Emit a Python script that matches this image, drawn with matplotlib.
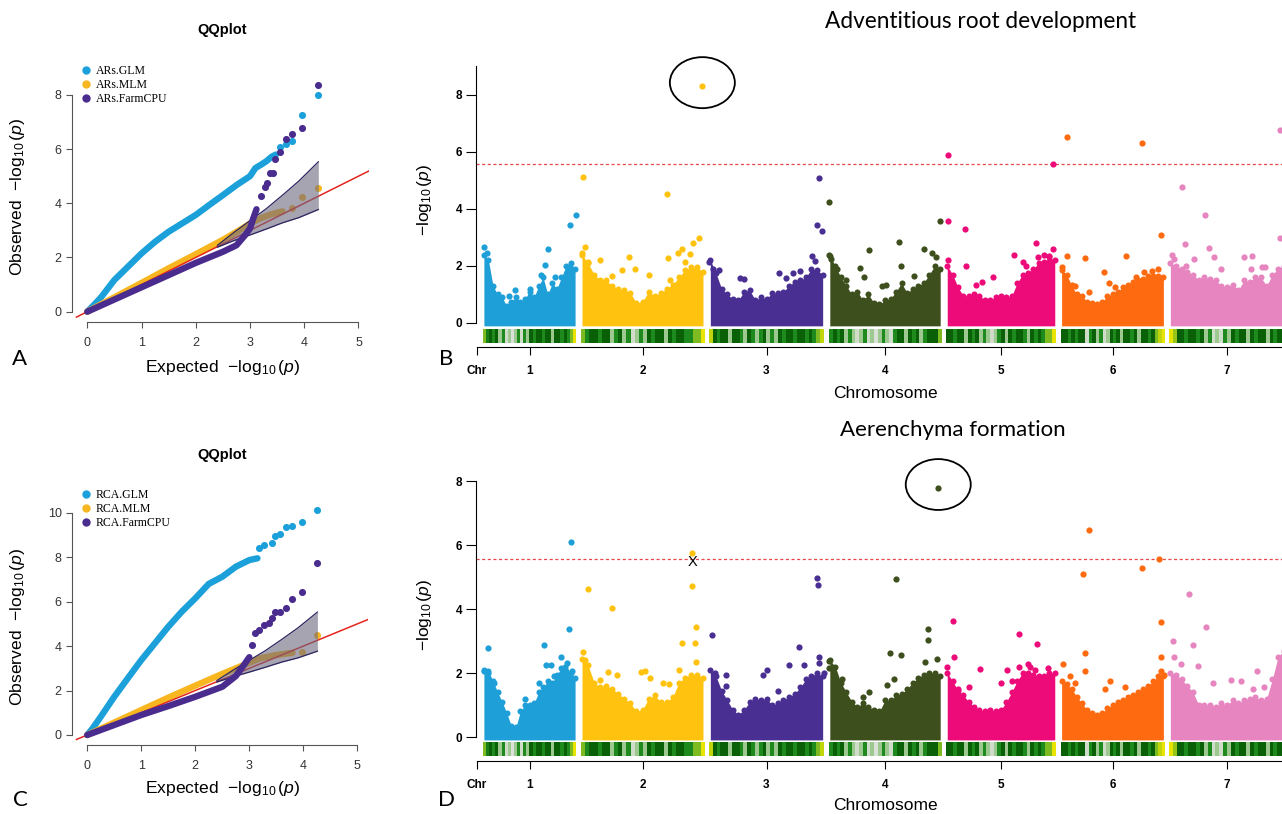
# -*- coding: utf-8 -*-
import numpy as np
import matplotlib
matplotlib.use('Agg')
import matplotlib.pyplot as plt
from matplotlib.colors import LinearSegmentedColormap
from matplotlib.lines import Line2D
from matplotlib.patches import Ellipse

plt.rcParams['font.family'] = ['Liberation Sans', 'DejaVu Sans']
plt.rcParams['mathtext.fontset'] = 'custom'
plt.rcParams['mathtext.rm'] = 'Liberation Sans'
plt.rcParams['mathtext.it'] = 'Liberation Sans:italic'

########################################## QQ data (expected, observed)
qq_ref = [-0.2, 5.2]

ar_names = ['ARs.GLM', 'ARs.MLM', 'ARs.FarmCPU']
ar_glm_x = [0, 0.1, 0.25, 0.5, 0.75, 1.0, 1.25, 1.5, 1.75, 2.0, 2.25, 2.5, 2.75, 3.0, 3.1, 3.2, 3.3, 3.4, 3.48]
ar_glm_y = [0, 0.2, 0.52, 1.17, 1.66, 2.15, 2.58, 2.95, 3.26, 3.57, 3.94, 4.3, 4.67, 5.0, 5.3, 5.42, 5.55, 5.72, 5.8]
ar_glm_tx = [3.55, 3.66, 3.78, 3.95, 4.26]
ar_glm_ty = [6.06, 6.2, 6.3, 7.27, 8.0]
ar_mlm_x = [0, 0.5, 1.0, 1.5, 2.0, 2.5, 2.8, 3.0, 3.2, 3.4, 3.6]
ar_mlm_y = [0, 0.53, 1.06, 1.6, 2.12, 2.65, 3.0, 3.25, 3.45, 3.6, 3.7]
ar_mlm_tx = [3.78, 3.95, 4.26]
ar_mlm_ty = [3.82, 4.22, 4.56]
ar_farm_x = [0, 0.5, 1.0, 1.5, 2.0, 2.5, 2.75, 2.9, 3.0, 3.06, 3.12]
ar_farm_y = [0, 0.45, 0.9, 1.35, 1.8, 2.21, 2.45, 2.8, 3.07, 3.44, 3.78]
ar_farm_tx = [3.2, 3.28, 3.31, 3.36, 3.42, 3.47, 3.55, 3.66, 3.78, 3.95, 4.26]
ar_farm_ty = [4.28, 4.61, 4.76, 5.1, 5.13, 5.62, 5.9, 6.36, 6.56, 6.79, 8.36]

rca_names = ['RCA.GLM', 'RCA.MLM', 'RCA.FarmCPU']
rca_glm_x = [0, 0.1, 0.25, 0.5, 0.75, 1.0, 1.25, 1.5, 1.75, 2.0, 2.25, 2.5, 2.75, 3.0, 3.15]
rca_glm_y = [0, 0.3, 0.82, 1.72, 2.55, 3.37, 4.12, 4.87, 5.55, 6.15, 6.8, 7.12, 7.57, 7.87, 7.95]
rca_glm_tx = [3.18, 3.27, 3.42, 3.48, 3.56, 3.67, 3.79, 3.97, 4.26]
rca_glm_ty = [8.4, 8.55, 8.62, 8.95, 9.04, 9.37, 9.4, 9.57, 10.12]
rca_mlm_x = [0, 0.5, 1.0, 1.5, 2.0, 2.5, 2.9, 3.2, 3.5, 3.8]
rca_mlm_y = [0, 0.56, 1.12, 1.68, 2.22, 2.75, 3.15, 3.45, 3.6, 3.7]
rca_mlm_tx = [3.97, 4.26]
rca_mlm_ty = [3.75, 4.5]
rca_farm_x = [0, 0.5, 1.0, 1.5, 2.0, 2.5, 2.75, 2.9, 3.0]
rca_farm_y = [0, 0.45, 0.9, 1.3, 1.72, 2.17, 2.65, 3.15, 3.5]
rca_farm_tx = [3.05, 3.1, 3.18, 3.27, 3.36, 3.42, 3.48, 3.57, 3.67, 3.79, 3.97, 4.26]
rca_farm_ty = [4.05, 4.57, 4.72, 4.95, 5.05, 5.25, 5.55, 5.55, 5.7, 6.1, 6.45, 7.75]

# confidence band of the QQ plots
band_x = [2.4, 2.7, 3.0, 3.3, 3.6, 3.9, 4.26]
band_lo = [2.38, 2.62, 2.83, 3.05, 3.28, 3.47, 3.77]
band_hi = [2.45, 2.92, 3.36, 3.8, 4.3, 4.82, 5.53]

########################################## Manhattan data
chr_labels = ['1', '2', '3', '4', '5', '6', '7']
chr_len = [95, 126, 117, 115, 112, 106, 118]
chr_gap = 2.5
threshold = 5.56

# top of the dense cloud of points, 21 evenly spaced positions per chromosome
ar_body = [
    [2.4, 2.2, 1.3, 1.0, 0.9, 0.6, 0.75, 0.9, 0.75, 0.85, 1.1, 0.9, 1.3, 1.6, 1.0, 1.4, 1.2, 1.6, 2.0, 2.1, 1.9],
    [2.4, 2.1, 1.7, 1.5, 1.5, 1.3, 1.2, 1.15, 1.05, 0.7, 0.75, 1.1, 0.95, 1.05, 1.2, 1.35, 1.6, 1.85, 1.95, 1.95, 1.8],
    [2.2, 1.75, 1.2, 1.0, 0.85, 0.8, 1.1, 1.15, 0.8, 0.9, 0.85, 1.05, 1.05, 1.1, 1.3, 1.45, 1.5, 1.6, 1.9, 1.85, 1.7],
    [2.35, 2.0, 1.6, 1.3, 1.0, 1.1, 0.8, 1.0, 0.7, 0.65, 0.8, 0.85, 1.1, 1.4, 1.05, 1.2, 1.3, 1.4, 1.7, 2.0, 1.9],
    [2.0, 1.7, 1.25, 0.95, 0.95, 1.0, 0.95, 0.8, 0.8, 0.9, 0.95, 0.9, 0.95, 1.4, 1.7, 1.75, 1.9, 2.1, 2.15, 2.3, 2.2],
    [1.85, 1.7, 1.3, 1.0, 0.95, 0.75, 0.7, 0.65, 0.75, 0.95, 1.0, 1.1, 1.25, 1.35, 1.45, 1.5, 1.55, 1.65, 1.65, 1.65, 1.6],
    [2.1, 2.0, 1.9, 1.8, 1.7, 1.5, 1.6, 1.55, 1.5, 1.3, 1.25, 1.35, 1.15, 1.5, 1.45, 1.6, 1.6, 1.3, 1.7, 1.9, 2.0],
]
ar_peak_x = [
    [0.02, 0.05, 0.28, 0.35, 0.51, 0.62, 0.66, 0.69, 0.77, 0.93, 0.99],
    [0.02, 0.04, 0.07, 0.16, 0.26, 0.34, 0.39, 0.44, 0.55, 0.70, 0.72, 0.78, 0.81, 0.84, 0.88, 0.90, 0.95, 0.025, 0.693],
    [0.01, 0.04, 0.09, 0.27, 0.31, 0.61, 0.67, 0.73, 0.79, 0.886, 0.914, 0.951, 0.929, 0.977],
    [0.01, 0.03, 0.08, 0.16, 0.28, 0.32, 0.36, 0.47, 0.51, 0.62, 0.64, 0.75, 0.84, 0.91, 0.94, 0.98, 0.01],
    [0.03, 0.03, 0.03, 0.18, 0.19, 0.28, 0.33, 0.43, 0.62, 0.70, 0.72, 0.81, 0.83, 0.88, 0.93, 0.96, 0.96],
    [0.02, 0.072, 0.12, 0.15, 0.245, 0.28, 0.42, 0.47, 0.52, 0.63, 0.72, 0.80, 0.87, 0.93, 0.96, 0.075, 0.774],
    [0.034, 0.05, 0.147, 0.12, 0.153, 0.22, 0.317, 0.346, 0.39, 0.45, 0.643, 0.714, 0.70, 0.80, 0.82, 0.946, 0.949],
]
ar_peak_y = [
    [2.68, 2.45, 0.95, 1.17, 1.19, 1.67, 2.02, 2.6, 1.6, 3.45, 3.78],
    [2.45, 2.67, 2.13, 2.2, 1.65, 1.87, 2.3, 1.9, 1.7, 2.28, 1.5, 2.44, 2.58, 2.15, 2.42, 2.8, 2.98, 5.11, 4.54],
    [2.15, 1.9, 1.87, 1.58, 1.55, 1.75, 1.58, 1.75, 1.81, 2.34, 2.16, 5.09, 3.45, 3.22],
    [2.4, 2.25, 1.9, 1.5, 1.92, 1.6, 2.56, 1.3, 1.33, 2.85, 2.0, 1.65, 2.6, 2.44, 2.3, 3.57, 4.25],
    [2.22, 5.91, 3.59, 3.31, 2.01, 1.32, 1.44, 1.61, 2.37, 2.13, 2.0, 2.81, 2.3, 2.4, 2.35, 2.6, 5.58],
    [1.95, 2.36, 1.35, 1.31, 2.28, 1.1, 1.79, 1.4, 1.25, 2.34, 1.6, 1.8, 1.84, 1.9, 3.08, 6.53, 6.32],
    [2.37, 2.25, 2.78, 4.76, 1.99, 2.23, 3.78, 2.63, 2.3, 1.9, 2.32, 2.34, 1.9, 1.95, 1.95, 2.98, 6.76],
]
ar_circled = (1, 0.975, 8.33)   # chromosome index, position, -log10(p)

rca_body = [
    [2.1, 2.05, 1.75, 1.4, 1.1, 0.75, 0.35, 0.3, 0.8, 1.0, 1.0, 1.05, 1.4, 1.55, 1.75, 1.7, 1.95, 2.15, 2.05, 2.0, 1.85],
    [2.45, 2.25, 1.7, 1.55, 1.6, 1.5, 1.35, 1.2, 1.05, 0.8, 0.85, 1.2, 1.3, 1.1, 1.1, 1.25, 1.7, 1.85, 1.95, 1.95, 1.85],
    [2.1, 1.9, 1.45, 1.15, 0.85, 0.7, 0.85, 1.1, 1.2, 1.15, 1.2, 1.0, 1.05, 1.15, 1.25, 1.35, 1.55, 1.8, 1.9, 2.0, 1.9],
    [2.4, 2.2, 1.7, 1.4, 1.1, 0.95, 1.05, 0.95, 0.85, 0.8, 1.15, 1.15, 1.3, 1.35, 1.5, 1.7, 1.85, 1.95, 2.0, 2.0, 1.9],
    [2.0, 1.75, 1.45, 1.3, 1.1, 0.95, 0.85, 0.8, 0.85, 0.8, 0.85, 1.1, 1.4, 1.75, 2.0, 2.0, 1.95, 1.9, 1.9, 2.0, 2.0],
    [1.75, 1.65, 1.5, 1.25, 1.05, 0.85, 0.75, 0.7, 0.75, 0.9, 1.0, 1.1, 1.15, 1.25, 1.3, 1.4, 1.5, 1.6, 1.75, 1.9, 1.9],
    [2.0, 1.95, 1.8, 1.6, 1.4, 1.0, 1.0, 1.0, 0.95, 1.05, 1.0, 1.15, 1.05, 1.15, 1.2, 1.25, 1.15, 1.2, 1.8, 2.5, 2.7],
]
rca_peak_x = [
    [0.02, 0.06, 0.062, 0.13, 0.45, 0.60, 0.652, 0.672, 0.724, 0.76, 0.828, 0.869, 0.897, 0.921, 0.938, 0.948],
    [0.03, 0.04, 0.071, 0.16, 0.23, 0.30, 0.49, 0.52, 0.56, 0.788, 0.815, 0.894, 0.894, 0.918, 0.921, 0.921, 0.259, 0.66, 0.71],
    [0.03, 0.06, 0.15, 0.15, 0.47, 0.50, 0.60, 0.69, 0.78, 0.82, 0.93, 0.94, 0.95, 0.95, 0.99],
    [0.01, 0.01, 0.06, 0.13, 0.31, 0.36, 0.52, 0.546, 0.58, 0.64, 0.85, 0.876, 0.876, 0.95, 0.595],
    [0.02, 0.07, 0.08, 0.12, 0.21, 0.31, 0.50, 0.558, 0.60, 0.657, 0.663, 0.743, 0.76, 0.80, 0.818, 0.92],
    [0.03, 0.1, 0.15, 0.283, 0.22, 0.242, 0.245, 0.48, 0.43, 0.62, 0.774, 0.937, 0.959, 0.962, 0.96, 0.99],
    [0.04, 0.05, 0.11, 0.181, 0.212, 0.255, 0.32, 0.38, 0.538, 0.62, 0.72, 0.75, 0.81],
]
rca_peak_y = [
    [2.05, 2.0, 2.79, 1.7, 1.2, 1.7, 2.86, 2.24, 2.24, 1.9, 2.5, 2.19, 2.31, 3.38, 6.1, 2.06],
    [2.66, 2.4, 4.61, 1.79, 2.04, 1.93, 2.03, 2.06, 1.85, 2.1, 2.95, 4.72, 5.75, 2.95, 3.43, 2.34, 4.03, 1.7, 1.65],
    [3.18, 2.0, 1.93, 1.6, 1.93, 2.1, 1.45, 2.26, 2.81, 2.24, 4.98, 4.76, 2.5, 2.3, 2.0],
    [2.38, 2.15, 1.9, 1.8, 1.25, 1.4, 1.61, 2.64, 1.8, 2.57, 2.34, 3.36, 3.02, 2.43, 4.95],
    [2.2, 3.64, 2.5, 1.5, 1.55, 2.14, 1.7, 2.08, 1.75, 3.23, 2.19, 2.27, 2.2, 2.1, 2.9, 2.15],
    [2.27, 1.9, 1.7, 6.46, 5.09, 2.63, 2.06, 1.75, 1.5, 1.55, 5.28, 5.57, 3.59, 2.5, 2.05, 1.95],
    [2.99, 2.5, 2.27, 4.48, 2.86, 2.21, 3.44, 1.7, 1.79, 1.75, 1.5, 2.05, 1.55],
]
rca_circled = (3, 0.963, 7.79)
rca_crossed = (1, 0.897, 5.46)   # the "X" mark

# SNP density strips under each chromosome (0 = sparse, 1 = dense)
snp_density = [
    [0.87, 0.6, 0.75, 0.55, 0.75, 0.3, 0.55, 0.1, 0.3, 0.05, 0.3, 0.55, 0.1, 0.55, 0.3, 0.75, 0.55, 0.75, 0.75, 0.55, 0.75, 0.75, 0.3, 0.75, 0.75, 0.55, 0.75, 0.55, 0.87, 1.0],
    [0.87, 0.55, 0.75, 0.75, 0.55, 0.75, 0.75, 0.3, 0.55, 0.75, 0.3, 0.55, 0.1, 0.3, 0.55, 0.3, 0.75, 0.55, 0.75, 0.75, 0.3, 0.75, 0.55, 0.75, 0.75, 0.55, 0.55, 0.87, 0.87, 1.0],
    [0.95, 0.75, 0.55, 0.75, 0.75, 0.3, 0.75, 0.75, 0.55, 0.3, 0.75, 0.55, 0.3, 0.55, 0.75, 0.3, 0.55, 0.3, 0.75, 0.55, 0.75, 0.75, 0.55, 0.75, 0.75, 0.55, 0.75, 0.55, 0.87, 0.95],
    [0.55, 0.75, 0.55, 0.75, 0.3, 0.55, 0.3, 0.1, 0.3, 0.55, 0.1, 0.3, 0.05, 0.3, 0.55, 0.3, 0.1, 0.55, 0.75, 0.75, 0.3, 0.75, 0.55, 0.75, 0.3, 0.55, 0.75, 0.75, 0.75, 0.87],
    [0.75, 0.75, 0.55, 0.75, 0.75, 0.3, 0.75, 0.55, 0.75, 0.3, 0.55, 0.3, 0.1, 0.3, 0.55, 0.75, 0.3, 0.75, 0.55, 0.75, 0.75, 0.55, 0.3, 0.75, 0.55, 0.75, 0.55, 0.87, 0.87, 1.0],
    [0.75, 0.75, 0.55, 0.75, 0.55, 0.75, 0.75, 0.1, 0.55, 0.75, 0.3, 0.55, 0.1, 0.3, 0.75, 0.55, 0.75, 0.3, 0.75, 0.75, 0.55, 0.75, 0.3, 0.75, 0.75, 0.55, 0.75, 0.87, 0.95, 1.0],
    [1.0, 0.9, 0.75, 0.75, 0.55, 0.75, 0.75, 0.55, 0.75, 0.3, 0.55, 0.1, 0.3, 0.1, 0.55, 0.3, 0.75, 0.55, 0.75, 0.75, 0.3, 0.75, 0.55, 0.75, 0.75, 0.3, 0.75, 0.55, 0.75, 0.75],
]

########################################## styles
qq_colors = ['#1BA0DA', '#F8B720', '#4A2C8E']
chr_colors = ['#1E9FD8', '#FFC20E', '#4A2F93', '#3E4F1E', '#EC0B79', '#FD6A0F', '#E685BF']
snp_cmap = LinearSegmentedColormap.from_list(
    'snp', [(0, '#E6E6E6'), (0.3, '#9DC88F'), (0.55, '#1E8A1E'), (0.75, '#075E07'),
            (0.87, '#7DBB21'), (1.0, '#E8E400')])

chr_start = np.concatenate([[0], np.cumsum(np.array(chr_len[:-1]) + chr_gap)])
chr_mid = chr_start + np.array(chr_len) / 2

W, H = 1282, 814
fig = plt.figure(figsize=(W / 100, H / 100), dpi=100)


def px_axes(left, top, right, bottom):
    return fig.add_axes([left / W, 1 - bottom / H, (right - left) / W, (bottom - top) / H])


def px_text(x, y, s, **kw):
    fig.text(x / W, 1 - y / H, s, ha='center', va='center', **kw)


def qq_panel(ax, curves, tails, names, ylim, ytop, leg_y):
    for (cx, cy), (tx, ty), col, z in zip(curves, tails, qq_colors, [3, 3, 6]):
        ax.plot(cx, cy, color=col, lw=4.6, solid_capstyle='round', solid_joinstyle='round', zorder=z)
        ax.scatter(tx, ty, s=26, color=col, lw=0, zorder=z)
    ax.plot(qq_ref, qq_ref, color='#E3251E', lw=1.1, zorder=4)
    ax.fill_between(band_x, band_lo, band_hi, color='#6C6880', alpha=0.6, lw=0, zorder=5)
    ax.plot(band_x, band_lo, color='#2C2560', lw=0.9, zorder=5)
    ax.plot(band_x, band_hi, color='#2C2560', lw=0.9, zorder=5)
    ax.set_xlim(-0.282, 5.2)
    ax.set_ylim(*ylim)
    for s in ['top', 'right']:
        ax.spines[s].set_visible(False)
    ax.spines['left'].set_bounds(0, ytop)
    ax.spines['bottom'].set_bounds(0, 5)
    for s in ['left', 'bottom']:
        ax.spines[s].set_color('#555555')
    ax.set_xticks(range(0, 6))
    ax.set_yticks(range(0, ytop + 1, 2))
    ax.tick_params(colors='#555555', labelcolor='#333333', labelsize=9, length=4)
    ax.tick_params(axis='x', pad=7)
    handles = [Line2D([], [], ls='', marker='o', ms=5, color=c) for c in qq_colors]
    ax.legend(handles, names, loc='upper left', bbox_to_anchor=(0.031, leg_y), frameon=False,
              prop={'family': 'Liberation Serif', 'size': 8.5}, handlelength=0.8,
              handletextpad=0.45, labelspacing=0.2, borderpad=0, borderaxespad=0)


def manhattan(ax, body, peak_x, peak_y, circled, ylim, ytop, bar, base, ell_h):
    for i in range(7):
        col = chr_colors[i]
        bx = chr_start[i] + np.linspace(0.02, 0.98, len(body[i])) * chr_len[i]
        ax.fill_between(bx, base, body[i], color=col, lw=0, zorder=2)
        ax.scatter(bx, body[i], s=19, color=col, lw=0, zorder=2)
        ax.scatter(chr_start[i] + np.array(peak_x[i]) * chr_len[i], peak_y[i], s=20,
                   color=col, lw=0, zorder=3, clip_on=False)
        ax.imshow(np.array(snp_density[i])[None, :], cmap=snp_cmap, vmin=0, vmax=1,
                  extent=(chr_start[i] + 1, chr_start[i] + chr_len[i] - 1, bar[0], bar[1]),
                  aspect='auto', interpolation='nearest', zorder=2)
    ci, cf, cy = circled
    cx = chr_start[ci] + cf * chr_len[ci]
    ax.scatter([cx], [cy], s=20, color=chr_colors[ci], lw=0, zorder=3, clip_on=False)
    ax.add_patch(Ellipse((cx, cy + 0.1), 65, ell_h, fill=False, ec='black', lw=1.3, clip_on=False, zorder=4))
    ax.axhline(threshold, color='#E8484A', lw=0.9, ls=(0, (2.5, 2)), zorder=1)
    ax.set_xlim(-6, 812)
    ax.set_ylim(*ylim)
    for s in ['top', 'right']:
        ax.spines[s].set_visible(False)
    ax.spines['left'].set_bounds(0, ytop)
    ax.spines['bottom'].set_bounds(-5, 812)
    ax.set_yticks(range(0, ytop + 1, 2))
    ax.set_xticks([-5] + list(chr_mid))
    ax.set_xticklabels(['Chr'] + chr_labels)
    ax.tick_params(axis='y', length=7, pad=3, labelsize=8.5)
    ax.tick_params(axis='x', length=6, pad=7, labelsize=8.5)
    plt.setp(ax.get_xticklabels() + ax.get_yticklabels(), fontweight='bold')


################################## A
ax_a = px_axes(72, 76.2, 369.3, 321.7)
qq_panel(ax_a, [(ar_glm_x, ar_glm_y), (ar_mlm_x, ar_mlm_y), (ar_farm_x, ar_farm_y)],
         [(ar_glm_tx, ar_glm_ty), (ar_mlm_tx, ar_mlm_ty), (ar_farm_tx, ar_farm_ty)],
         ar_names, (-0.37, 8.69), 8, 1.047)

################################## C
ax_c = px_axes(72, 501.6, 368.2, 745)
qq_panel(ax_c, [(rca_glm_x, rca_glm_y), (rca_mlm_x, rca_mlm_y), (rca_farm_x, rca_farm_y)],
         [(rca_glm_tx, rca_glm_ty), (rca_mlm_tx, rca_mlm_ty), (rca_farm_tx, rca_farm_ty)],
         rca_names, (-0.45, 10.5), 10, 1.053)

################################## B
ax_b = px_axes(476, 55, 1294, 347)
manhattan(ax_b, ar_body, ar_peak_x, ar_peak_y, ar_circled, (-0.842, 9.40), 9,
          (-0.70, -0.21), -0.1, 1.79)

################################## D
ax_d = px_axes(476, 470, 1294, 760.7)
manhattan(ax_d, rca_body, rca_peak_x, rca_peak_y, rca_circled, (-0.74, 8.344), 8,
          (-0.59, -0.18), -0.09, 1.59)
mi, mf, my = rca_crossed
ax_d.text(chr_start[mi] + mf * chr_len[mi], my, 'X', ha='center', va='center',
          fontsize=10.5, color='black', zorder=5)

################################## texts
mlog = r'$-\log_{10}(\mathit{p})$'
for y0, ytl in [(0, 197), (425, 627)]:
    px_text(222.5, 30 + y0, 'QQplot', fontsize=10.5, fontweight='bold')
    px_text(222.5, 367 + (y0 - 4 if y0 else 0), 'Expected  ' + mlog, fontsize=12.6)
    px_text(18, ytl, 'Observed  ' + mlog, fontsize=12.6, rotation=90)

px_text(981, 22, 'Adventitious root development', fontsize=16.3, family=['Lato', 'DejaVu Sans'])
px_text(953, 430, 'Aerenchyma formation', fontsize=16, family=['Lato', 'DejaVu Sans'])
for yc, yl in [(393, 200), (806, 615)]:
    px_text(885, yc, 'Chromosome', fontsize=12.5)
    px_text(425, yl, mlog, fontsize=12.5, rotation=90)

for lab, x, y in [('A', 20, 359), ('B', 446, 359), ('C', 20, 800), ('D', 447, 800)]:
    px_text(x, y, lab, fontsize=16, family=['Lato', 'DejaVu Sans'])

fig.savefig('out.png', dpi=100)
